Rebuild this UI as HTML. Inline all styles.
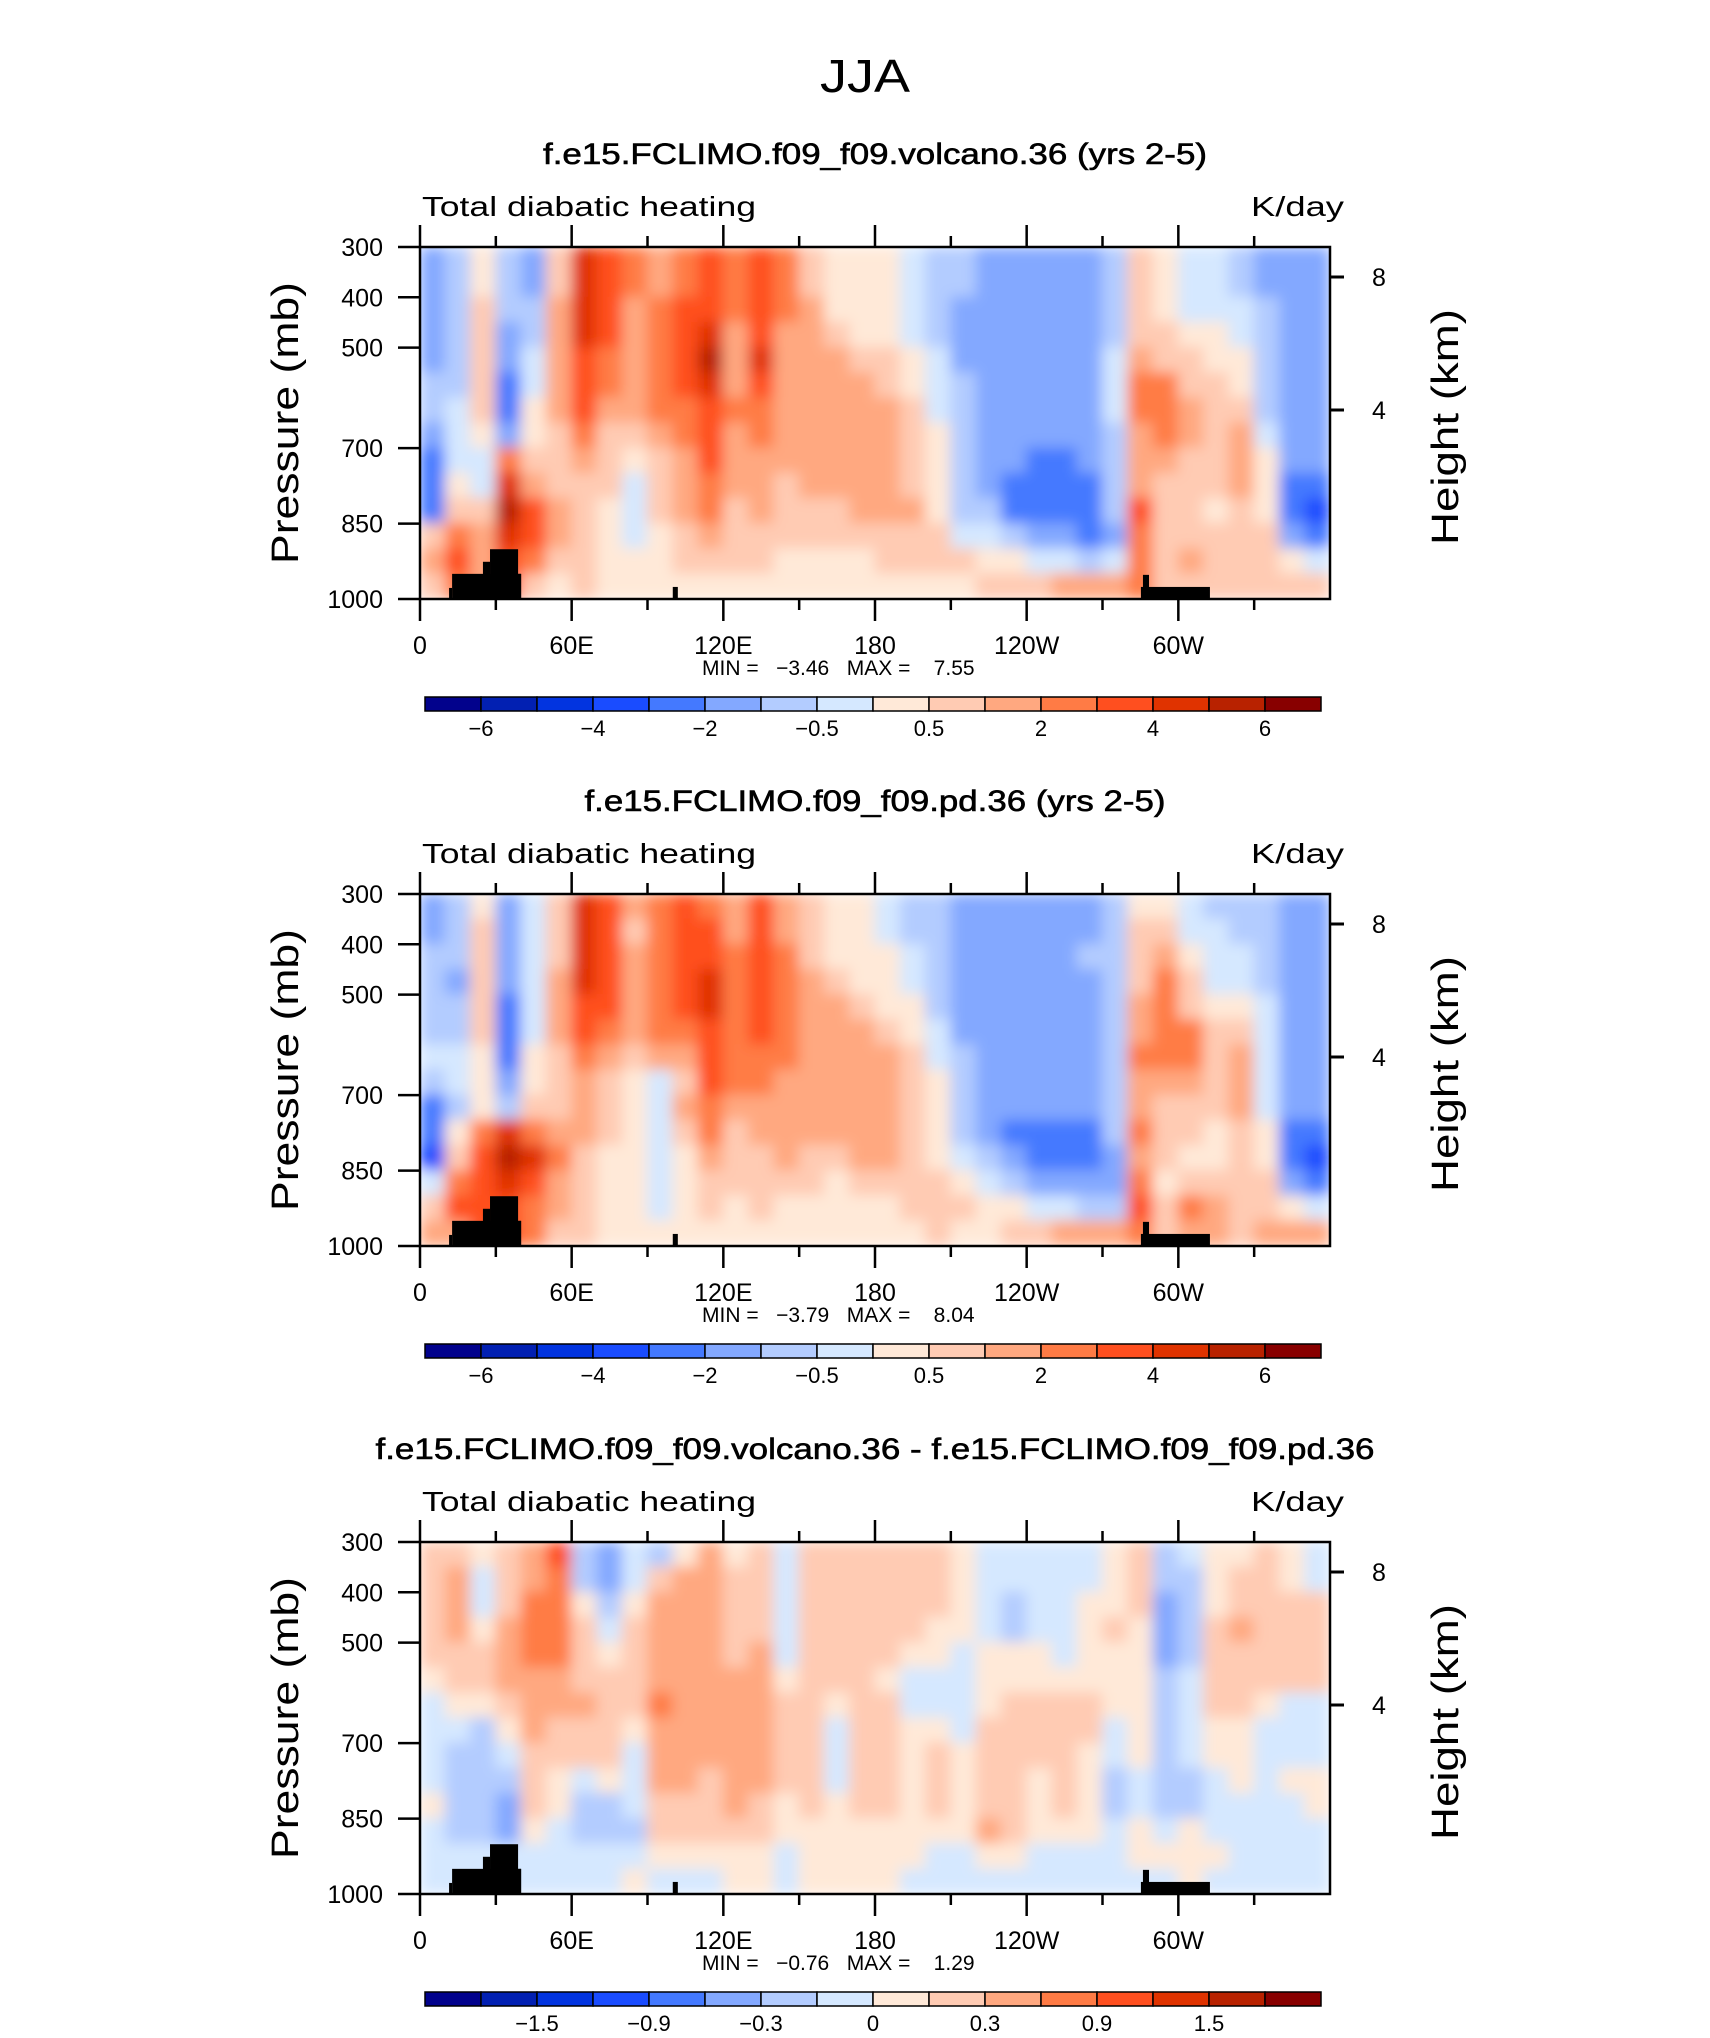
<!DOCTYPE html>
<html><head><meta charset="utf-8"><style>
html,body{margin:0;padding:0;background:#fff}
svg{display:block}
text{font-family:"Liberation Sans",sans-serif;fill:#000}
</style></head><body>
<svg id="fig" width="1710" height="2038" viewBox="0 0 1710 2038" xmlns="http://www.w3.org/2000/svg">
<defs>
<filter id="soft" x="0" y="0" width="1" height="1"><feGaussianBlur stdDeviation="7" edgeMode="duplicate"/></filter>
</defs>
<text x="865" y="92" font-size="46" text-anchor="middle" textLength="90" lengthAdjust="spacingAndGlyphs" fill="#222">JJA</text>
</svg>
<script>
// ---- data ----
const lons = [5,15,25,35,45,55,65,75,85,95,105,115,125,135,145,155,165,175,185,195,205,215,225,235,245,255,265,275,285,295,305,315,325,335,345,355];
const pressures = [325,375,425,475,525,575,625,675,725,775,825,875,925,975];
// Level-class per longitude column (top->bottom), hex digit = colour class 0..15
const volcanoCols = ["555556654449a9","66666677789bcb","88999998779aaa","66655445bdedcc","556677889accb9","99aaaaa999aa98","ddddcccba99999","ccccbba9998888","bbaaaaa9877788","aabbbbba999888","bbccccbbaaa998","cccdedcccbba98","bbbaaabaaa9998","ccccdcbbaaa998","bbbaaaaaa99988","99aaaaaaaa9988","8889aaaaaa9988","88889aaaaaa988","888899aaaaa998","7777889999a998","66667778888998","66555666666798","55555555556789","55555555544689","55555555444579","5555555544457a","5555555554446a","6666777666657a","9999abbaaacbbb","88899bbba99999","777899aa9999a9","77788999998999","6677889aaa9999","55666667888999","55555555544589","55555555543479"];
const pdCols = ["5566667644379a","66656677689bca","899999888bcccc","555544456dedcc","777777889bdcbb","999aaa999abaa9","ddddccbaaa9999","cccccba9998888","a9aaaa98888888","bbbbbba7777778","cccccba9a98888","bccddcccbba998","aabbbbbba99988","ccccccbbaa9998","aabbbbbaaaa988","999aaaaaaa9988","8889aaaaaa9888","88889aaaaaa988","778889aaaaa988","66778899999998","66666778888999","55555566667898","55555555556788","55555555545689","55555555544579","5555555554457a","5565555554456a","6666666666556a","8999aabaababcb","89abbbba999899","77899bba9989ba","677789999889aa","667789aaa99999","6666777778899a","5555555554458a","5555555554347a"];
const diffCols = ["99999877778777","9aaa9987666677","87789986666677","999aaa98765577","aabbbaaa999877","cbbbbaa9988777","668999a9976677","55678999986677","77899998777678","69aaaabaaa9987","8aaaaaaaaa9987","aaaaaaaaa99987","89999aaaaaa988","9999aaaaaa9988","77777899998877","99999999999888","99999987778888","99999999999888","99999899999888","99998778888887","99988778999877","88887777888877","77778889999a87","77668899999987","77778899988877","77777899999877","77888899888877","88898887766777","99988888877887","66555666666787","76666777766888","88899998877787","899a9998887777","99999987777777","88999977787777","77999977788777"];
const levels1 = [-6,-5,-4,-3,-2,-1,-0.5,0,0.5,1,2,3,4,5,6];
const levels3 = [-1.8,-1.5,-1.2,-0.9,-0.6,-0.3,-0.1,0,0.1,0.3,0.6,0.9,1.2,1.5,1.8];
const cbLabels1 = ["-6","-4","-2","-0.5","0.5","2","4","6"];
const cbLabels3 = ["-1.5","-0.9","-0.3","0","0.3","0.9","1.5"];
const xTickLabels = ["0","60E","120E","180","120W","60W"];
const pTicks = [300,400,500,700,850,1000];
const hTicks = [8,4];
const topoLon0 = [11.5,12.7,24.9,27.7,33.6,38.8,100,285.2,286];
const topoLon1 = [12.7,40,27.7,38.8,36.6,40,102,312.5,288.4];
const topoP = [978,950,926,901,926,950,976,976,952];
const palette = ["#02028c","#0220b2","#0234e0","#1a4cff","#4479ff","#83a8ff","#b3ccff","#d5e8ff","#ffe9d8","#ffcbb3","#ffa880","#ff7b45","#ff4f1f","#e03300","#b82200","#880000"];

// ---- layout ----
const svg = document.getElementById('fig');
const NS = 'http://www.w3.org/2000/svg';
const PL = 420, PR = 1330, PH = 352;
const panels = [
 {top:247, title:"f.e15.FCLIMO.f09_f09.volcano.36 (yrs 2-5)", tl:664, cols:volcanoCols, mn:"-3.46", mx:"7.55", cb:cbLabels1, cbStart:1},
 {top:894, title:"f.e15.FCLIMO.f09_f09.pd.36 (yrs 2-5)", tl:581, cols:pdCols, mn:"-3.79", mx:"8.04", cb:cbLabels1, cbStart:1},
 {top:1542, title:"f.e15.FCLIMO.f09_f09.volcano.36 - f.e15.FCLIMO.f09_f09.pd.36", tl:999, cols:diffCols, mn:"-0.76", mx:"1.29", cb:cbLabels3, cbStart:2}
];
function xs(lon){return PL + lon/360*(PR-PL);}
function mk(tag, attrs, parent){const e=document.createElementNS(NS,tag);for(const k in attrs)e.setAttribute(k,attrs[k]);(parent||svg).appendChild(e);return e;}
function txt(s, attrs, parent){const e=mk('text',attrs,parent);e.textContent=s.replace(/-/g,'\u2212');return e;}

panels.forEach((P,pi)=>{
  const ys = p => P.top + (p-300)/700*PH;
  const hs = h => P.top + 296 - 33.25*h;
  const g = mk('g',{});
  
  
  const t = txt(P.title,{x:875,y:P.top-83,'font-size':30,'text-anchor':'middle',textLength:P.tl,lengthAdjust:'spacingAndGlyphs',stroke:'#000','stroke-width':0.6},g);
  t.textContent = P.title;
  
  
  const l = txt('Total diabatic heating',{x:422,y:P.top-31,'font-size':28,textLength:334,lengthAdjust:'spacingAndGlyphs',fill:'#222'},g);
  
  
  const u = txt('K/day',{x:1344,y:P.top-31,'font-size':28,'text-anchor':'end',textLength:93,lengthAdjust:'spacingAndGlyphs',fill:'#222'},g);
  
  
  // field
  const cid='clip'+pi;
  const cp=mk('clipPath',{id:cid},g); mk('rect',{x:PL,y:P.top,width:PR-PL,height:PH},cp);
  const fg = mk('g',{'clip-path':'url(#'+cid+')'},g);
  const fld = mk('g',{filter:'url(#soft)'},fg);
  
  
  const dl = 10, dp = 50;
  lons.forEach((lon,i)=>{
    const col = P.cols[i];
    pressures.forEach((p,j)=>{
      const k = parseInt(col[Math.min(j,col.length-1)],16);
      const x0 = xs(lon-dl/2), y0 = ys(p-dp/2);
      const r = mk('rect',{x:x0-0.5,y:y0-0.5,width:xs(lon+dl/2)-x0+1,height:ys(p+dp/2)-y0+1,fill:palette[k]},fld);
      
      
    });
  });
  // topography
  topoP.forEach((tp,i)=>{
    const r = mk('rect',{x:xs(topoLon0[i]),y:ys(tp),width:xs(topoLon1[i])-xs(topoLon0[i]),height:ys(1000)-ys(tp),fill:'#000'},fg);
    
    
  });
  // frame
  const fr = mk('rect',{x:PL,y:P.top,width:PR-PL,height:PH,fill:'none',stroke:'#000','stroke-width':2.5},g);
  
  
  // x ticks
  for(let lon=0;lon<=330;lon+=30){
    const major = lon%60===0, len = major?22:11;
    mk('line',{x1:xs(lon),x2:xs(lon),y1:P.top,y2:P.top-len,stroke:'#000','stroke-width':2.5},g);
    mk('line',{x1:xs(lon),x2:xs(lon),y1:P.top+PH,y2:P.top+PH+len,stroke:'#000','stroke-width':2.5},g);
  }
  xTickLabels.forEach((s,i)=>{
    const e = txt(s,{x:xs(i*60),y:P.top+PH+55,'font-size':25,'text-anchor':'middle'},g);
    
    
  });
  // y ticks
  pTicks.forEach(p=>{
    mk('line',{x1:PL,x2:PL-22,y1:ys(p),y2:ys(p),stroke:'#000','stroke-width':2.5},g);
    const e = txt(String(p),{x:383,y:ys(p)+9,'font-size':25,'text-anchor':'end'},g);
    
    
  });
  // height axis (km)
  hTicks.forEach(h=>{
    const yy = hs(h);
    mk('line',{x1:PR,x2:PR+14,y1:yy,y2:yy,stroke:'#000','stroke-width':3},g);
    const e = txt(String(h),{x:1372,y:yy+9,'font-size':25},g);
    
    
  });
  const yl = txt('Pressure (mb)',{transform:'translate(298,'+(P.top+176)+') rotate(-90)','font-size':38,'text-anchor':'middle',textLength:282,lengthAdjust:'spacingAndGlyphs',fill:'#222'},g);
  
  
  const hl = txt('Height (km)',{transform:'translate(1458,'+(P.top+180)+') rotate(-90)','font-size':38,'text-anchor':'middle',textLength:236,lengthAdjust:'spacingAndGlyphs',fill:'#222'},g);
  
  
  const mm = txt('MIN =   '+P.mn+'   MAX =    '+P.mx,{x:702,y:P.top+428,'font-size':21},g);
  mm.setAttribute('style','white-space:pre');
  
  
  // colorbar
  const cbx=425, cbw=56, cby=P.top+450, cbh=14;
  palette.forEach((c,i)=>{
    const r = mk('rect',{x:cbx+i*cbw,y:cby,width:cbw,height:cbh,fill:c,stroke:'#000','stroke-width':1.5},g);
    
    
  });
  P.cb.forEach((s,i)=>{
    const b = P.cbStart + i*2;
    const e = txt(s,{x:cbx+b*cbw,y:cby+39,'font-size':22,'text-anchor':'middle'},g);
    
    
  });
});
</script>
</body></html>
